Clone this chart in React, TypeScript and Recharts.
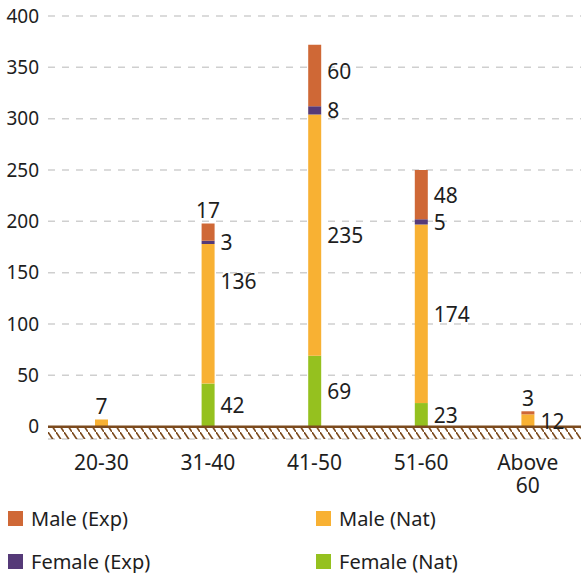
import { BarChart, Bar, XAxis, YAxis, CartesianGrid, ReferenceLine, ReferenceArea, LabelList } from 'recharts';

const ageGroups = ['20-30', '31-40', '41-50', '51-60', 'Above 60'];
const femaleNat = [0, 42, 69, 23, 0];
const maleNat = [7, 136, 235, 174, 12];
const femaleExp = [0, 3, 8, 5, 0];
const maleExp = [0, 17, 60, 48, 3];
const yTicks = [0, 50, 100, 150, 200, 250, 300, 350, 400];

const series: Record<string, number[]> = { femaleNat, maleNat, femaleExp, maleExp };

const data = ageGroups.map((age, i) => ({
  age,
  femaleNat: femaleNat[i],
  maleNat: maleNat[i],
  femaleExp: femaleExp[i],
  maleExp: maleExp[i],
}));

const COLORS = {
  maleExp: '#CF6836',
  maleNat: '#F8B133',
  femaleExp: '#553A78',
  femaleNat: '#95C11F',
};

const TEXT = '#1e1e1e';
const FONT = '"Noto Sans", sans-serif';

// labels that sit above the bar instead of to the right, and manual nudges (by age group)
const topLabels: Record<string, string[]> = { maleNat: ['20-30'], maleExp: ['31-40', 'Above 60'] };
const nudges: Record<string, Record<string, number>> = { maleNat: { '31-40': -33 }, maleExp: { '41-50': -5 } };

function makeLabel(key: string) {
  return (props: any) => {
    const { x, y, width, height, value } = props;
    if (!value) return null;
    const group = ageGroups[series[key].indexOf(value)];
    const top = (topLabels[key] || []).includes(group);
    const dy = (nudges[key] || {})[group] || 0;
    if (top) {
      return (
        <text x={x + width / 2} y={y - 13} textAnchor="middle" dominantBaseline="central"
          fontSize={21} fontFamily={FONT} fill={TEXT}>{value}</text>
      );
    }
    return (
      <text x={x + width + 6} y={y + height / 2 + dy} dominantBaseline="central"
        fontSize={21} fontFamily={FONT} fill={TEXT}>{value}</text>
    );
  };
}

function AgeTick(props: any) {
  const { x, y, payload } = props;
  const parts = String(payload.value).split(' ');
  return (
    <g>
      {parts.map((p, i) => (
        <text key={i} x={x} y={y + 31 + i * 23} textAnchor="middle" fontSize={21} fontFamily={FONT} fill={TEXT}>{p}</text>
      ))}
    </g>
  );
}

const legendItems = [
  { key: 'maleExp', name: 'Male (Exp)', left: 8, top: 511 },
  { key: 'maleNat', name: 'Male (Nat)', left: 316, top: 511 },
  { key: 'femaleExp', name: 'Female (Exp)', left: 8, top: 554 },
  { key: 'femaleNat', name: 'Female (Nat)', left: 316, top: 554 },
];

export default function App() {
  return (
    <div style={{ position: 'absolute', left: 0, top: 0, width: 581, height: 573, fontFamily: FONT, background: '#fff' }}>
      <svg width={0} height={0} style={{ position: 'absolute' }}>
        <defs>
          <pattern id="hatch" patternUnits="userSpaceOnUse" width={8} height={12}>
            <line x1={0} y1={0} x2={8} y2={12} stroke="#7B4A1E" strokeWidth={1.6} />
          </pattern>
        </defs>
      </svg>
      <BarChart width={581} height={500} data={data} margin={{ top: 16, right: 0, bottom: 0, left: 0 }}>
        <CartesianGrid vertical={false} stroke="#cfcfcf" strokeDasharray="7 7" strokeWidth={1.5} />
        <XAxis dataKey="age" height={61} axisLine={false} tickLine={false} tickSize={0} tickMargin={0}
          interval={0} tick={<AgeTick />} />
        <YAxis width={48} domain={[-12, 400]} ticks={yTicks} interval={0} axisLine={false} tickLine={false}
          tickSize={0} tickMargin={9} allowDataOverflow
          tick={{ fontSize: 19, fontFamily: FONT, fill: TEXT }} />
        <ReferenceArea y1={-12} y2={0} fill="url(#hatch)" fillOpacity={1} stroke="none" />
        <Bar dataKey="femaleNat" stackId="a" fill={COLORS.femaleNat} barSize={13} isAnimationActive={false}>
          <LabelList dataKey="femaleNat" content={makeLabel('femaleNat')} />
        </Bar>
        <Bar dataKey="maleNat" stackId="a" fill={COLORS.maleNat} barSize={13} isAnimationActive={false}>
          <LabelList dataKey="maleNat" content={makeLabel('maleNat')} />
        </Bar>
        <Bar dataKey="femaleExp" stackId="a" fill={COLORS.femaleExp} barSize={13} isAnimationActive={false}>
          <LabelList dataKey="femaleExp" content={makeLabel('femaleExp')} />
        </Bar>
        <Bar dataKey="maleExp" stackId="a" fill={COLORS.maleExp} barSize={13} isAnimationActive={false}>
          <LabelList dataKey="maleExp" content={makeLabel('maleExp')} />
        </Bar>
        <ReferenceLine y={0} stroke="#7B4A1E" strokeWidth={2.5} />
      </BarChart>
      {legendItems.map((item) => (
        <div key={item.key} style={{ position: 'absolute', left: item.left, top: item.top, display: 'flex', alignItems: 'center' }}>
          <div style={{ width: 15, height: 15, background: COLORS[item.key as keyof typeof COLORS] }} />
          <span style={{ marginLeft: 8, fontSize: 20, color: TEXT, lineHeight: '15px' }}>{item.name}</span>
        </div>
      ))}
    </div>
  );
}
